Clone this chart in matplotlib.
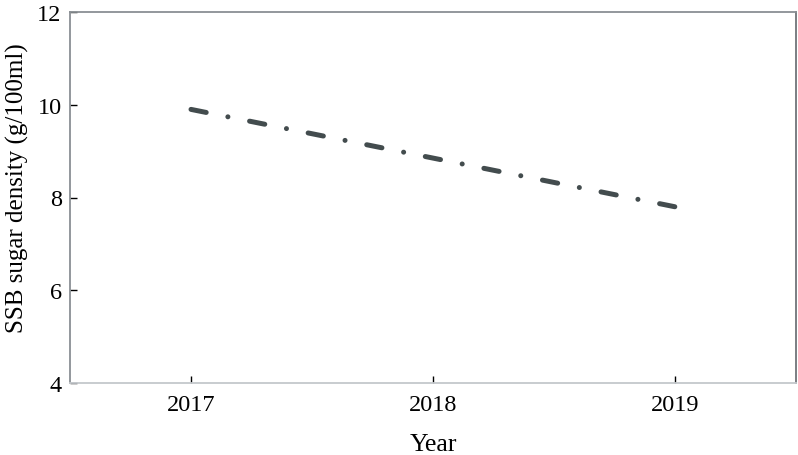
import matplotlib
matplotlib.use("Agg")
import matplotlib.pyplot as plt

years = [2017, 2018, 2019]
density = [9.9, 8.85, 7.8]

plt.rcParams["font.family"] = ["Liberation Serif", "DejaVu Serif"]

fig = plt.figure(figsize=(7.98, 4.56), dpi=100)
ax = fig.add_axes([70 / 798, 1 - 384 / 456, 726 / 798, 371 / 456])

(line,) = ax.plot(years, density, color="#434c4e", linewidth=3.6,
                  solid_capstyle="round", dash_capstyle="round")
line.set_dashes((3.1, 4.42, 0.01, 4.42))

ax.set_xlim(2016.5, 2019.5)
ax.set_ylim(4, 12)
ax.set_xticks(years)
ax.set_yticks([4, 6, 8, 10, 12])
ax.tick_params(direction="in", length=5, width=1, colors="black",
               labelsize=17.5, pad=8)
ax.tick_params(axis="y", pad=6)

ax.spines["left"].set_color("#8a8f94")
ax.spines["top"].set_color("#8a8f94")
ax.spines["bottom"].set_color("#c4c8cc")
ax.spines["right"].set_color("#707478")
for s in ax.spines.values():
    s.set_linewidth(1.3)

ax.set_xlabel("Year", fontsize=18.5, labelpad=13)
ax.set_ylabel("SSB sugar density (g/100ml)", fontsize=18)
ax.yaxis.set_label_coords(-0.057, 0.527)

fig.savefig("out.png", dpi=100)
